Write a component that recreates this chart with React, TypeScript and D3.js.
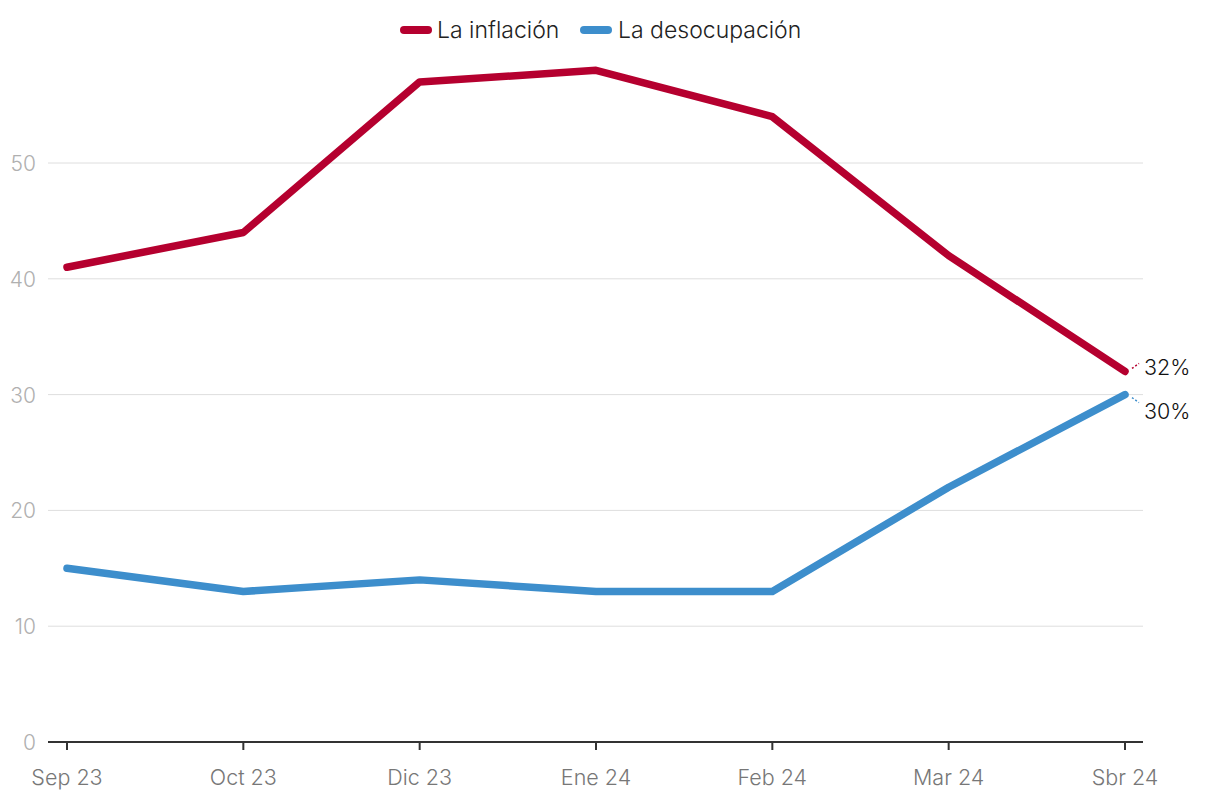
import React from "react";
import * as d3 from "d3";

const months = ["Sep 23", "Oct 23", "Dic 23", "Ene 24", "Feb 24", "Mar 24", "Sbr 24"];
const inflacion = [41, 44, 57, 58, 54, 42, 32];
const desocupacion = [15, 13, 14, 13, 13, 22, 30];
const yTicks = [0, 10, 20, 30, 40, 50];

const series = [
  { name: "La inflación", values: inflacion, color: "#b5002f" },
  { name: "La desocupación", values: desocupacion, color: "#3d8ecc" },
];

const W = 1220;
const H = 806;
const FONT = "Inter, Roboto, sans-serif";

export default function App() {
  const x = d3.scalePoint<string>().domain(months).range([67, 1125]);
  const y = d3.scaleLinear().domain([0, 50]).range([742, 163]);
  const line = d3
    .line<number>()
    .x((_, i) => x(months[i]) as number)
    .y((d) => y(d));

  const lastX = x(months[months.length - 1]) as number;

  return (
    <svg
      width={W}
      height={H}
      style={{ position: "absolute", left: 0, top: 0, background: "#fff" }}
      fontFamily={FONT}
      fontWeight={300}
    >
      {/* grid */}
      {yTicks.map((t) => (
        <g key={t}>
          {t > 0 && (
            <line x1={48} x2={1143} y1={y(t)} y2={y(t)} stroke="#dedede" strokeWidth={1} />
          )}
          <text x={36} y={y(t) + 8} textAnchor="end" fontSize={21} fill="#b0b0b0">
            {t}
          </text>
        </g>
      ))}

      {/* x axis */}
      <line x1={48} x2={1143} y1={742} y2={742} stroke="#333" strokeWidth={2} />
      {months.map((m) => (
        <g key={m}>
          <line x1={x(m)} x2={x(m)} y1={742} y2={750} stroke="#333" strokeWidth={2} />
          <text x={x(m)} y={785} textAnchor="middle" fontSize={21.5} fill="#777">
            {m}
          </text>
        </g>
      ))}

      {/* lines */}
      {series.map((s) => (
        <path
          key={s.name}
          d={line(s.values) ?? ""}
          fill="none"
          stroke={s.color}
          strokeWidth={7.5}
          strokeLinejoin="round"
          strokeLinecap="round"
        />
      ))}

      {/* end labels */}
      {series.map((s, i) => {
        const v = s.values[s.values.length - 1];
        const yy = y(v);
        const ly = i === 0 ? yy - 4 : yy + 16;
        return (
          <g key={s.name + "lab"}>
            <line
              x1={lastX + 7}
              y1={yy + (i === 0 ? -3 : 3)}
              x2={lastX + 14}
              y2={i === 0 ? yy - 8 : yy + 8}
              stroke={s.color}
              strokeWidth={1.5}
              strokeDasharray="2,2"
            />
            <text x={1144} y={ly + 8} fontSize={21.5} fill="#111">
              {v}%
            </text>
          </g>
        );
      })}

      {/* legend */}
      <g>
        <line x1={404} x2={428} y1={30} y2={30} stroke={series[0].color} strokeWidth={8} strokeLinecap="round" />
        <text x={437} y={38} fontSize={23} fill="#222">
          {series[0].name}
        </text>
        <line x1={584} x2={608} y1={30} y2={30} stroke={series[1].color} strokeWidth={8} strokeLinecap="round" />
        <text x={618} y={38} fontSize={23} fill="#222">
          {series[1].name}
        </text>
      </g>
    </svg>
  );
}
